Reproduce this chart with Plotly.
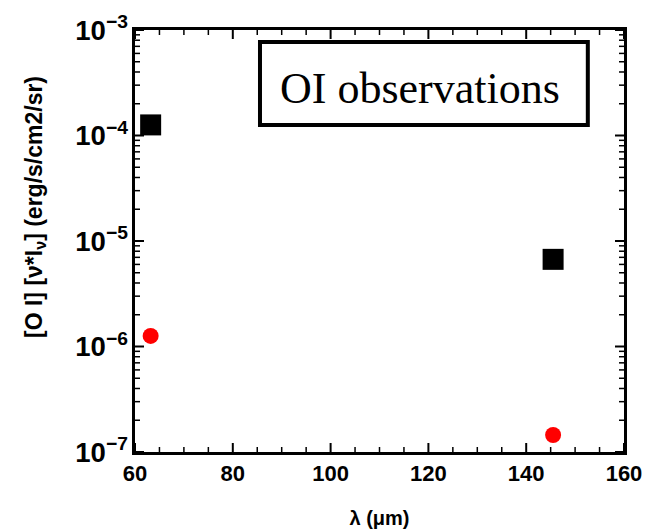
import plotly.graph_objects as go

# [O I] line intensities at the 63 and 145 micron transitions
wavelength_um = [63.2, 145.5]
observed = [1.26e-4, 6.7e-6]
model = [1.26e-6, 1.45e-7]

# Axis limits and tick positions
x_range = [60, 160]
y_decades = [-7, -3]
x_major = [60, 80, 100, 120, 140, 160]
x_minor = [v for v in range(60, 161, 5) if v not in x_major]
decades = list(range(y_decades[0], y_decades[1] + 1))
y_major = [10.0 ** d for d in decades]
y_minor = [m * 10.0 ** d for d in decades[:-1] for m in range(2, 10)]

# plot area size in pixels, used to express tick lengths in data units
PLOT_W, PLOT_H = 489, 422
x_per_px = (x_range[1] - x_range[0]) / PLOT_W
dec_per_px = (y_decades[1] - y_decades[0]) / PLOT_H

fig = go.Figure()
fig.add_trace(go.Scatter(
    x=wavelength_um, y=observed, mode="markers",
    marker=dict(symbol="square", size=21, color="black"),
    showlegend=False,
))
fig.add_trace(go.Scatter(
    x=wavelength_um, y=model, mode="markers",
    marker=dict(symbol="circle", size=16, color="#ff0000"),
    showlegend=False,
))

# Inward tick marks on all four sides
def tick_trace(xvals, yvals, length_px, width):
    xs, ys = [], []
    ybot, ytop = 10.0 ** y_decades[0], 10.0 ** y_decades[1]
    k = 10.0 ** (length_px * dec_per_px)
    for v in xvals:
        xs += [v, v, None, v, v, None]
        ys += [ybot, ybot * k, None, ytop, ytop / k, None]
    dx = length_px * x_per_px
    for v in yvals:
        xs += [x_range[0], x_range[0] + dx, None, x_range[1], x_range[1] - dx, None]
        ys += [v, v, None, v, v, None]
    fig.add_trace(go.Scatter(
        x=xs, y=ys, mode="lines", line=dict(color="black", width=width),
        showlegend=False, hoverinfo="skip", cliponaxis=False,
    ))

tick_trace(x_major, y_major, 9, 2)
tick_trace(x_minor, y_minor, 5, 1.5)

tickfont = dict(family="Liberation Sans, Arial, sans-serif", size=22, color="black", weight="bold")
titlefont = dict(family="Liberation Sans, Arial, sans-serif", size=20, color="black", weight="bold")

fig.update_layout(
    template="none",
    width=648, height=531,
    margin=dict(l=135, r=24, t=30, b=79),
    paper_bgcolor="white", plot_bgcolor="white",
    xaxis=dict(
        range=x_range, dtick=20, tick0=60, ticks="",
        showline=True, linewidth=2.5, linecolor="black", mirror=True,
        showgrid=False, zeroline=False, tickfont=tickfont,
        title=dict(text="λ (μm)", font=titlefont, standoff=26),
    ),
    yaxis=dict(
        type="log", range=y_decades, dtick=1, exponentformat="power", ticks="",
        showline=True, linewidth=2.5, linecolor="black", mirror=True,
        showgrid=False, zeroline=False, tickfont=tickfont,
    ),
)

# Vertical axis title
fig.add_annotation(
    xref="paper", yref="paper", x=-0.205, y=0.58,
    text="[O I] [ν*I<sub>ν</sub>] (erg/s/cm2/sr)", textangle=-90, showarrow=False,
    font=dict(family="Liberation Sans, Arial, sans-serif", size=23, color="black", weight="bold"),
    xanchor="center", yanchor="middle",
)

# Label box in the upper right of the plot
fig.add_shape(
    type="rect", xref="paper", yref="paper",
    x0=0.2556, x1=0.926, y0=0.775, y1=0.9716,
    line=dict(color="black", width=4), fillcolor="rgba(0,0,0,0)", layer="above",
)
fig.add_annotation(
    xref="paper", yref="paper", x=0.583, y=0.862,
    text="OI observations", showarrow=False,
    font=dict(family="Liberation Serif, Times New Roman, serif", size=44, color="black"),
    xanchor="center", yanchor="middle",
)

fig.write_html("out.html")
